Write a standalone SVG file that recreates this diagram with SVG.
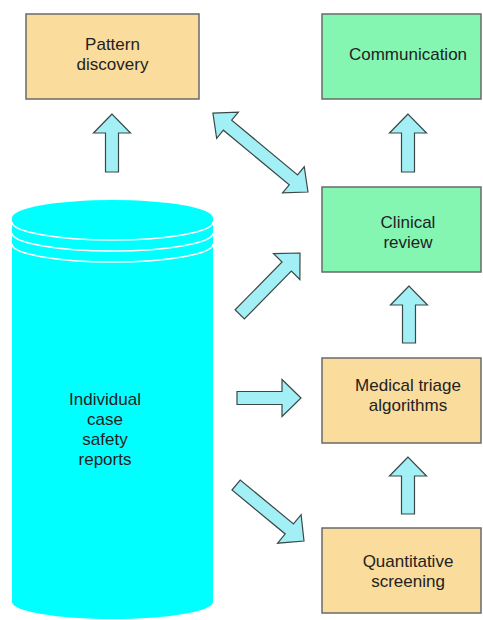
<svg xmlns="http://www.w3.org/2000/svg" width="483" height="620" viewBox="0 0 483 620">
<style>
.box{stroke:#6a6a6a;stroke-width:1.5}
.tan{fill:#FADC9C}
.green{fill:#84F6B2}
.lbl{font-family:"Liberation Sans",Arial,sans-serif;font-size:17px;fill:#222;text-anchor:middle}
.arr{fill:#A2F0F6;stroke:#3c4848;stroke-width:1.2;stroke-linejoin:miter}
.ring{fill:none;stroke:#ffffff;stroke-width:1.6}
</style>
<rect width="483" height="620" fill="#ffffff"/>

<g id="icsr">
<path d="M12,218 L12,602 A100.5,17 0 0 0 213,602 L213,218 A100.5,18 0 0 0 12,218 Z" fill="#00FFFF"/>
<path class="ring" d="M12,222 A100.5,18 0 0 0 213,222"/>
<path class="ring" d="M12,233 A100.5,18 0 0 0 213,233"/>
<path class="ring" d="M12,244 A100.5,18 0 0 0 213,244"/>
<text class="lbl" x="105" y="405">Individual</text>
<text class="lbl" x="105" y="425">case</text>
<text class="lbl" x="105" y="445">safety</text>
<text class="lbl" x="105" y="465">reports</text>
</g>

<g id="pattern">
<rect class="box tan" x="26" y="14" width="173" height="85"/>
<text class="lbl" x="112.5" y="50">Pattern</text>
<text class="lbl" x="112.5" y="70">discovery</text>
</g>

<g id="communication">
<rect class="box green" x="322" y="14" width="159" height="85"/>
<text class="lbl" x="408" y="60">Communication</text>
</g>

<g id="clinical">
<rect class="box green" x="322" y="187" width="159" height="85"/>
<text class="lbl" x="408" y="228">Clinical</text>
<text class="lbl" x="408" y="248">review</text>
</g>

<g id="triage">
<rect class="box tan" x="322" y="358" width="159" height="85"/>
<text class="lbl" x="408" y="391">Medical triage</text>
<text class="lbl" x="408" y="411">algorithms</text>
</g>

<g id="screening">
<rect class="box tan" x="322" y="528" width="159" height="85"/>
<text class="lbl" x="408" y="567">Quantitative</text>
<text class="lbl" x="408" y="587">screening</text>
</g>

<g id="connectors">
<polygon class="arr" transform="translate(112,114) rotate(-90)" points="0,0 -19,-18.5 -19,-6.5 -58,-6.5 -58,6.5 -19,6.5 -19,18.5"/>
<polygon class="arr" transform="translate(408,114) rotate(-90)" points="0,0 -19,-18.5 -19,-6.5 -58,-6.5 -58,6.5 -19,6.5 -19,18.5"/>
<polygon class="arr" transform="translate(409,286) rotate(-90)" points="0,0 -19,-18.5 -19,-6.5 -57,-6.5 -57,6.5 -19,6.5 -19,18.5"/>
<polygon class="arr" transform="translate(408,457) rotate(-90)" points="0,0 -19,-18.5 -19,-6.5 -57,-6.5 -57,6.5 -19,6.5 -19,18.5"/>
<polygon class="arr" transform="translate(301,398)" points="0,0 -19,-18.5 -19,-6.5 -64,-6.5 -64,6.5 -19,6.5 -19,18.5"/>
<polygon class="arr" transform="translate(300,253) rotate(-45.5)" points="0,0 -19,-18.5 -19,-6.5 -86,-6.5 -86,6.5 -19,6.5 -19,18.5"/>
<polygon class="arr" transform="translate(304,541) rotate(39.5)" points="0,0 -19,-18.5 -19,-6.5 -88,-6.5 -88,6.5 -19,6.5 -19,18.5"/>
<polygon class="arr" transform="translate(308,192) rotate(39.7)" points="0,0 -19,-17 -19,-6.5 -104.6,-6.5 -104.6,-17 -123.6,0 -104.6,17 -104.6,6.5 -19,6.5 -19,17"/>
</g>
</svg>
